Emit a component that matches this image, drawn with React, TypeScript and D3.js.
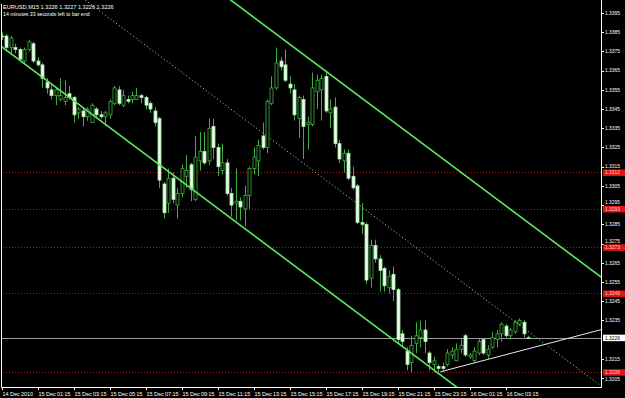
import React from 'react';
import * as d3 from 'd3';

const open = [1.3383,1.3383,1.3377,1.3377,1.3376,1.3370,1.3376,1.3379,1.3370,1.3368,1.3359,1.3355,1.3352,1.3350,1.3349,1.3353,1.3351,1.3343,1.3344,1.3341,1.3338,1.3345,1.3342,1.3341,1.3342,1.3348,1.3355,1.3347,1.3350,1.3350,1.3350,1.3352,1.3351,1.3348,1.3344,1.3340,1.3306,1.3296,1.3309,1.3295,1.3301,1.3310,1.3316,1.3298,1.3318,1.3323,1.3318,1.3336,1.3325,1.3313,1.3317,1.3301,1.3296,1.3297,1.3293,1.3300,1.3314,1.3318,1.3331,1.3325,1.3348,1.3356,1.3370,1.3368,1.3358,1.3355,1.3340,1.3350,1.3337,1.3337,1.3354,1.3355,1.3362,1.3343,1.3346,1.3327,1.3318,1.3322,1.3310,1.3305,1.3286,1.3285,1.3257,1.3274,1.3267,1.3262,1.3252,1.3259,1.3251,1.3228,1.3219,1.3213,1.3223,1.3226,1.3230,1.3218,1.3212,1.3211,1.3211,1.3212,1.3217,1.3214,1.3220,1.3227,1.3216,1.3214,1.3218,1.3225,1.3217,1.3221,1.3225,1.3228,1.3232,1.3227,1.3229,1.3233,1.3234,1.3226];
const high = [1.3385,1.3384,1.3383,1.3379,1.3377,1.3377,1.3381,1.3380,1.3372,1.3369,1.3361,1.3358,1.3356,1.3361,1.3360,1.3357,1.3352,1.3346,1.3346,1.3346,1.3348,1.3346,1.3344,1.3344,1.3350,1.3357,1.3357,1.3355,1.3352,1.3354,1.3356,1.3353,1.3352,1.3349,1.3346,1.3341,1.3307,1.3314,1.3312,1.3304,1.3316,1.3321,1.3317,1.3331,1.3333,1.3333,1.3340,1.3340,1.3327,1.3327,1.3319,1.3304,1.3314,1.3299,1.3305,1.3315,1.3325,1.3329,1.3338,1.3350,1.3362,1.3377,1.3372,1.3376,1.3362,1.3358,1.3352,1.3352,1.3341,1.3364,1.3363,1.3363,1.3365,1.3350,1.3351,1.3329,1.3324,1.3324,1.3315,1.3306,1.3296,1.3286,1.3277,1.3277,1.3269,1.3263,1.3261,1.3263,1.3252,1.3230,1.3221,1.3227,1.3234,1.3235,1.3235,1.3219,1.3216,1.3212,1.3213,1.3220,1.3221,1.3223,1.3226,1.3228,1.3218,1.3221,1.3226,1.3226,1.3222,1.3229,1.3230,1.3234,1.3233,1.3231,1.3235,1.3236,1.3235,1.3227];
const low = [1.3381,1.3376,1.3374,1.3374,1.3370,1.3369,1.3375,1.3369,1.3367,1.3356,1.3353,1.3350,1.3347,1.3349,1.3347,1.3350,1.3338,1.3340,1.3336,1.3339,1.3338,1.3340,1.3340,1.3336,1.3340,1.3347,1.3347,1.3346,1.3348,1.3348,1.3350,1.3348,1.3345,1.3343,1.3336,1.3304,1.3288,1.3291,1.3296,1.3288,1.3299,1.3304,1.3297,1.3297,1.3313,1.3316,1.3316,1.3319,1.3310,1.3311,1.3300,1.3289,1.3287,1.3287,1.3284,1.3293,1.3311,1.3310,1.3324,1.3322,1.3347,1.3355,1.3365,1.3359,1.3353,1.3339,1.3330,1.3319,1.3324,1.3336,1.3345,1.3339,1.3343,1.3335,1.3325,1.3317,1.3312,1.3308,1.3303,1.3285,1.3280,1.3254,1.3252,1.3265,1.3250,1.3250,1.3249,1.3245,1.3223,1.3221,1.3209,1.3208,1.3218,1.3221,1.3218,1.3209,1.3208,1.3208,1.3208,1.3211,1.3215,1.3214,1.3218,1.3216,1.3215,1.3213,1.3217,1.3217,1.3215,1.3220,1.3221,1.3224,1.3226,1.3225,1.3228,1.3232,1.3226,1.3226];
const close = [1.3383,1.3377,1.3382,1.3376,1.3371,1.3376,1.3380,1.3370,1.3368,1.3361,1.3356,1.3352,1.3355,1.3352,1.3351,1.3351,1.3342,1.3345,1.3341,1.3345,1.3347,1.3342,1.3341,1.3343,1.3349,1.3356,1.3348,1.3352,1.3349,1.3352,1.3352,1.3351,1.3347,1.3345,1.3338,1.3308,1.3291,1.3309,1.3298,1.3301,1.3314,1.3313,1.3303,1.3320,1.3323,1.3317,1.3335,1.3325,1.3315,1.3317,1.3301,1.3295,1.3297,1.3294,1.3300,1.3314,1.3320,1.3326,1.3325,1.3349,1.3356,1.3369,1.3367,1.3360,1.3356,1.3342,1.3351,1.3336,1.3338,1.3356,1.3360,1.3361,1.3344,1.3345,1.3327,1.3319,1.3322,1.3309,1.3304,1.3286,1.3285,1.3256,1.3274,1.3267,1.3261,1.3253,1.3258,1.3251,1.3225,1.3224,1.3212,1.3222,1.3227,1.3230,1.3224,1.3213,1.3214,1.3210,1.3210,1.3218,1.3219,1.3220,1.3222,1.3217,1.3217,1.3219,1.3224,1.3218,1.3220,1.3226,1.3228,1.3233,1.3227,1.3230,1.3234,1.3235,1.3228,1.3226];

const timeLabels = ['14 Dec 2010','15 Dec 01:15','15 Dec 03:15','15 Dec 05:15','15 Dec 07:15','15 Dec 09:15','15 Dec 11:15','15 Dec 13:15','15 Dec 15:15','15 Dec 17:15','15 Dec 19:15','15 Dec 21:15','15 Dec 23:15','16 Dec 01:15','16 Dec 03:15'];
const timeLabelBars = [0,8,16,24,32,40,48,56,64,72,80,88,96,104,112];
const priceTicks = [1.3395,1.3385,1.3375,1.3365,1.3355,1.3345,1.3335,1.3325,1.3315,1.3305,1.3295,1.3285,1.3275,1.3265,1.3255,1.3245,1.3235,1.3215,1.3205];
const levels = [1.3312,1.3293,1.3273,1.3249,1.3208];
const bid = 1.3226;
const header1 = 'EURUSD,M15  1.3226 1.3227 1.3226 1.3226';
const header2 = '14 minutes 33 seconds left to bar end';
// channel: [barIndex, price] pairs
const channelLower = [[0,1.33775],[94,1.32128]];
const channelUpper = [[0,1.34910],[94,1.33263]];
const channelMid = [[0,1.34343],[94,1.32696]];
const trendLine = [[97.5,1.32082],[133,1.32300]];

const W = 625, H = 398;
const PLOT_R = 601.5, PLOT_B = 387.5;

export default function App() {
  const x = d3.scaleLinear().domain([0, 117]).range([1.5, 528]);
  const y = d3.scaleLinear().domain([1.3205, 1.3395]).range([378, 13]);
  const font = 'Liberation Sans, Arial, sans-serif';
  const wick = '#3fb03f';
  const ext = (pts: number[][]) => {
    const [a, b] = pts;
    const slope = (b[1] - a[1]) / (b[0] - a[0]);
    const i0 = -20, i1 = 160;
    return [[i0, a[1] + slope * (i0 - a[0])], [i1, a[1] + slope * (i1 - a[0])]];
  };
  const line = d3.line<number[]>().x(d => x(d[0])).y(d => y(d[1]));
  const tl = trendLine;
  const tSlope = (tl[1][1] - tl[0][1]) / (tl[1][0] - tl[0][0]);
  const trendPts = [tl[0], [160, tl[0][1] + tSlope * (160 - tl[0][0])]];
  const AX_FS = 4.9;
  // nudge tick labels that sit right next to a level box
  const tickOffset = (p: number) => {
    for (const l of levels) {
      const d = y(p) - y(l);
      if (Math.abs(d) < 6.5) return d < 0 ? -(6.5 + d) : 6.5 - d;
    }
    return 0;
  };
  return (
    <svg width={W} height={H} style={{ position: 'absolute', left: 0, top: 0, background: '#000' }}>
      <defs>
        <clipPath id="plot"><rect x={2} y={0} width={PLOT_R - 2} height={PLOT_B} /></clipPath>
      </defs>
      <rect x={0} y={0} width={W} height={H} fill="#000" />
      <g clipPath="url(#plot)">
        {levels.map((p, i) => (
          <line key={i} x1={0} x2={PLOT_R} y1={Math.round(y(p)) + 0.5} y2={Math.round(y(p)) + 0.5} stroke="#b01818" strokeDasharray="1,2" />
        ))}
        <line x1={0} x2={PLOT_R} y1={Math.round(y(bid)) + 0.5} y2={Math.round(y(bid)) + 0.5} stroke="#9a9a9a" />
        <path d={line(ext(channelMid)) || ''} stroke="#9cc49c" strokeWidth={1} strokeDasharray="1.2,2.3" fill="none" />
        {open.map((o, i) => {
          const c = close[i];
          const cx = Math.round(x(i)) + 0.5;
          const bull = c > o;
          const top = y(Math.max(o, c));
          const bot = y(Math.min(o, c));
          return (
            <g key={i}>
              <line x1={cx} x2={cx} y1={y(high[i])} y2={y(low[i])} stroke={wick} strokeWidth={1} />
              <rect x={cx - 1.5} y={top} width={3} height={Math.max(0.8, bot - top)} fill={bull ? '#000' : '#eaffea'} stroke={bull ? wick : '#a8e0a8'} strokeWidth={0.8} />
            </g>
          );
        })}
        <path d={line(ext(channelUpper)) || ''} stroke="#5ee85e" strokeWidth={1.6} fill="none" />
        <path d={line(ext(channelLower)) || ''} stroke="#5ee85e" strokeWidth={1.6} fill="none" />
        <path d={line(trendPts) || ''} stroke="#e8e8e8" strokeWidth={1} fill="none" />
      </g>
      {/* frame */}
      <line x1={1.5} x2={1.5} y1={4} y2={PLOT_B} stroke="#ffffff" />
      <line x1={1.5} x2={PLOT_R} y1={PLOT_B} y2={PLOT_B} stroke="#ffffff" />
      <line x1={PLOT_R} x2={PLOT_R} y1={0} y2={PLOT_B} stroke="#ffffff" />
      {/* header */}
      <text x={3} y={9} fill="#fff" fontSize={5.6} fontFamily={font}>{header1}</text>
      <text x={3} y={16} fill="#fff" fontSize={5.2} fontFamily={font}>{header2}</text>
      {/* price axis */}
      {priceTicks.map((p, i) => (
        <g key={i}>
          <line x1={PLOT_R} x2={PLOT_R + 2.5} y1={Math.round(y(p)) + 0.5} y2={Math.round(y(p)) + 0.5} stroke="#fff" />
          <text x={605} y={y(p) + 1.8 + tickOffset(p)} fill="#fff" fontSize={AX_FS} fontFamily={font}>{p.toFixed(4)}</text>
        </g>
      ))}
      {levels.map((p, i) => (
        <g key={i}>
          <rect x={603} y={y(p) - 3} width={22} height={6.5} fill="#e01414" />
          <text x={605} y={y(p) + 2} fill="#ffd0d0" fontSize={AX_FS} fontFamily={font}>{p.toFixed(4)}</text>
        </g>
      ))}
      <rect x={603} y={y(bid) - 3} width={22} height={6.5} fill="#fff" />
      <text x={605} y={y(bid) + 2} fill="#000" fontSize={AX_FS} fontFamily={font}>{bid.toFixed(4)}</text>
      {/* time axis */}
      {timeLabelBars.map((b, i) => (
        <g key={i}>
          <line x1={Math.round(x(b)) + 0.5} x2={Math.round(x(b)) + 0.5} y1={PLOT_B} y2={PLOT_B + 2.5} stroke="#fff" />
          <text x={x(b) + 1} y={396} fill="#fff" fontSize={5.4} fontFamily={font}>{timeLabels[i]}</text>
        </g>
      ))}
    </svg>
  );
}
